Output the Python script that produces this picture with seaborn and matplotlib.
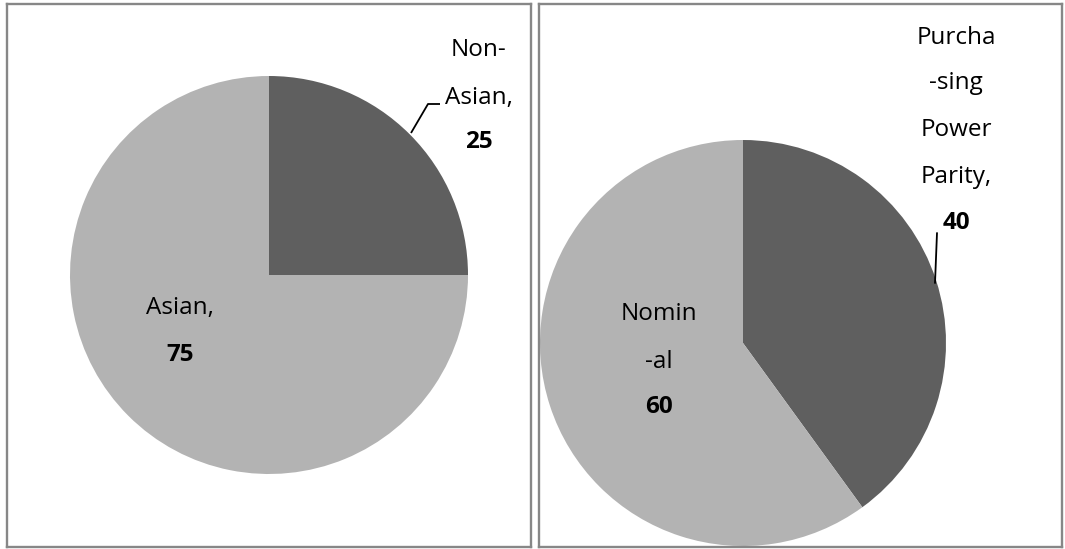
import matplotlib
matplotlib.use("Agg")
import matplotlib.pyplot as plt
import seaborn as sns

# Survey shares for the two pies
left_labels = ["Non-Asian", "Asian"]
left_values = [25, 75]
right_labels = ["Purchasing Power Parity", "Nominal"]
right_values = [40, 60]

# Wrapped label text as it appears next to each slice
left_label_lines = [["Non-", "Asian,"], ["Asian,"]]
right_label_lines = [["Purcha", "-sing", "Power", "Parity,"], ["Nomin", "-al"]]

sns.set_theme(style="white")
plt.rcParams["font.family"] = ["Open Sans", "DejaVu Sans"]

DARK = "#5f5f5f"
LIGHT = "#b3b3b3"
FRAME = "#878787"

W, H = 1065, 549
fig = plt.figure(figsize=(W / 100, H / 100), dpi=100)
fig.patch.set_facecolor("white")


def panel(x0, x1, y_top, y_bot):
    """Axes whose data units are image pixels (y measured from the top)."""
    ax = fig.add_axes([x0 / W, (H - y_bot) / H, (x1 - x0) / W, (y_bot - y_top) / H])
    return ax


def style_panel(ax, x0, x1, y_top, y_bot):
    ax.set_xlim(x0, x1)
    ax.set_ylim(H - y_bot, H - y_top)
    ax.set_aspect("auto")
    ax.set_xticks([])
    ax.set_yticks([])
    for s in ax.spines.values():
        s.set_visible(True)
        s.set_color(FRAME)
        s.set_linewidth(1.7)


def draw_pie(ax, values, cx, cy, r):
    wedges, _ = ax.pie(values, colors=[DARK, LIGHT], startangle=90, counterclock=False,
                       center=(cx, H - cy), radius=r, frame=True,
                       wedgeprops=dict(linewidth=0))
    for w in wedges:
        w.set_clip_on(True)
    return wedges


def label_block(ax, x, ys, lines, value):
    for yy, txt in zip(ys[:-1], lines):
        ax.text(x, H - yy, txt, ha="center", va="center", fontsize=17.5, color="black")
    ax.text(x, H - ys[-1], f"{value}", ha="center", va="center", fontsize=17.5,
            fontweight="bold", color="black")


# Left panel
axl = panel(7, 531, 4, 547)
draw_pie(axl, left_values, 269, 275, 199)
style_panel(axl, 7, 531, 4, 547)
label_block(axl, 479, [50, 98, 142], left_label_lines[0], left_values[0])
label_block(axl, 180, [308, 355], left_label_lines[1], left_values[1])
axl.plot([411, 428, 440], [H - 133, H - 104, H - 104], color="black", lw=1.3,
         solid_capstyle="butt")

# Right panel
axr = panel(539, 1062, 4, 547)
draw_pie(axr, right_values, 743, 343, 203)
style_panel(axr, 539, 1062, 4, 547)
label_block(axr, 956, [38, 83, 130, 177, 223], right_label_lines[0], right_values[0])
label_block(axr, 659, [314, 362, 407], right_label_lines[1], right_values[1])
axr.plot([935, 937], [H - 283, H - 233], color="black", lw=1.3)

fig.savefig("out.png", dpi=100, facecolor="white")
